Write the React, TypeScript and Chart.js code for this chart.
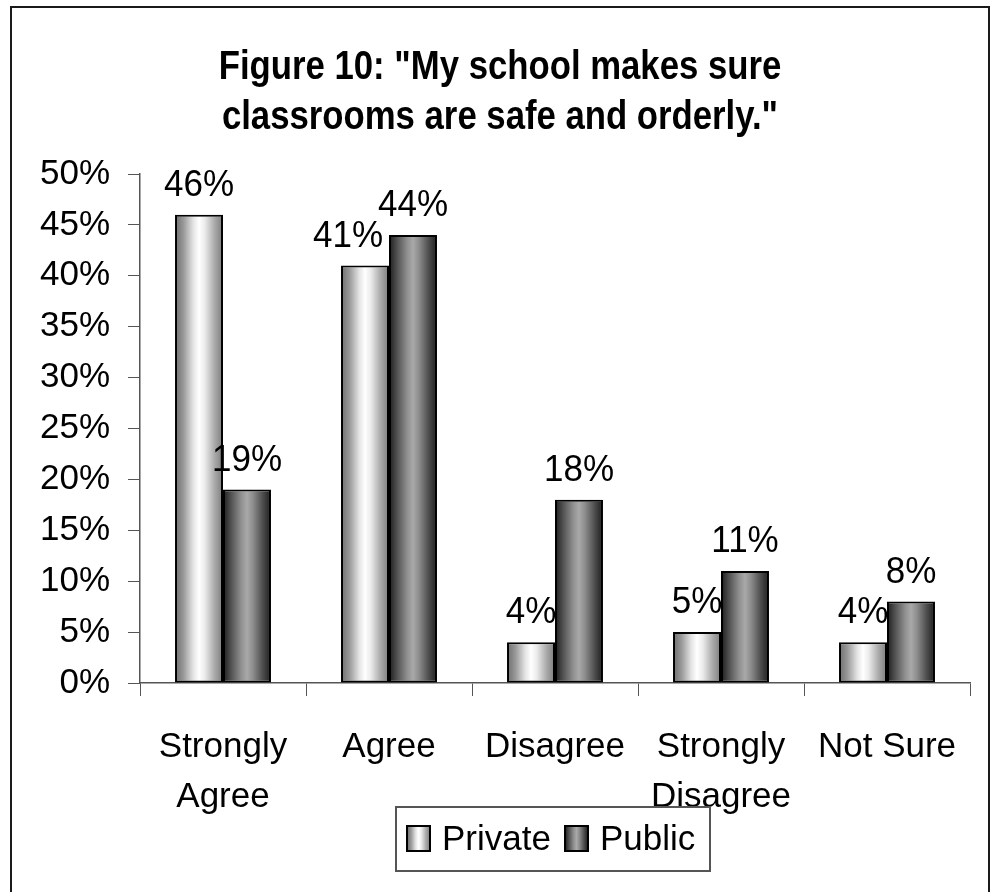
import React, { useEffect, useRef } from 'react';
import { Chart, registerables } from 'chart.js';
Chart.register(...registerables);

const TITLE_LINES = ['Figure 10: "My school makes sure', 'classrooms are safe and orderly."'];
const CATEGORIES: (string | string[])[] = [['Strongly', 'Agree'], 'Agree', 'Disagree', ['Strongly', 'Disagree'], 'Not Sure'];
const PRIVATE_VALUES = [46, 41, 4, 5, 4];
const PUBLIC_VALUES = [19, 44, 18, 11, 8];
const SERIES_NAMES = ['Private', 'Public'];
const Y_MIN = 0;
const Y_MAX = 50;
const Y_STEP = 5;

const FONT = '"Liberation Sans", Arial, Helvetica, sans-serif';
const CAT_PCT = 0.578;

type Stop = [number, string];
const PRIVATE_STOPS: Stop[] = [
  [0, '#6c6c6c'], [0.18, '#9a9a9a'], [0.38, '#e4e4e4'], [0.5, '#ffffff'],
  [0.62, '#ebebeb'], [0.82, '#ababab'], [1, '#7c7c7c'],
];
const PUBLIC_STOPS: Stop[] = [
  [0, '#1c1c1c'], [0.18, '#555555'], [0.38, '#909090'], [0.5, '#a9a9a9'],
  [0.62, '#8e8e8e'], [0.82, '#505050'], [1, '#1c1c1c'],
];

function grad(ctx: CanvasRenderingContext2D, x0: number, x1: number, stops: Stop[]) {
  const g = ctx.createLinearGradient(x0, 0, x1, 0);
  stops.forEach(([o, c]) => g.addColorStop(o, c));
  return g;
}

const makeBg = (stops: Stop[], side: number) => (c: any) => {
  const chart = c.chart;
  const xs = chart.scales && chart.scales.x;
  if (!xs || c.dataIndex === undefined || !isFinite(xs.width)) return stops[3][1];
  const center = xs.getPixelForValue(c.dataIndex);
  const bw = (xs.width / CATEGORIES.length) * CAT_PCT / 2;
  const left = side === 0 ? center - bw : center;
  return grad(chart.ctx, left, left + bw, stops);
};

// Label nudges (style): key = datasetIndex-dataIndex
const LABEL_DX: Record<string, number> = { '0-1': -17 };

function drawLabels(chart: any, dsIndex: number) {
  const ctx = chart.ctx;
  const ds = chart.data.datasets[dsIndex];
  const meta = chart.getDatasetMeta(dsIndex);
  ctx.save();
  ctx.font = `35px ${FONT}`;
  ctx.fillStyle = '#000';
  ctx.textAlign = 'center';
  ctx.textBaseline = 'alphabetic';
  meta.data.forEach((el: any, i: number) => {
    const dx = LABEL_DX[`${dsIndex}-${i}`] || 0;
    ctx.save();
    ctx.translate(el.x + dx, el.y - 19);
    ctx.scale(1, 1.08);
    ctx.fillText(`${ds.data[i]}%`, 0, 0);
    ctx.restore();
  });
  ctx.restore();
}

const valueLabels = {
  id: 'valueLabels',
  beforeDatasetsDraw(chart: any) {
    drawLabels(chart, 0);
  },
  afterDatasetsDraw(chart: any) {
    drawLabels(chart, 1);
  },
};

const frameTitleLegend = {
  id: 'frameTitleLegend',
  afterDraw(chart: any) {
    const ctx = chart.ctx;
    ctx.save();
    // outer frame
    ctx.strokeStyle = '#1a1a1a';
    ctx.lineWidth = 2;
    ctx.beginPath();
    ctx.moveTo(11, 900);
    ctx.lineTo(11, 7);
    ctx.lineTo(989, 7);
    ctx.lineTo(989, 900);
    ctx.stroke();
    // title (condensed bold)
    ctx.fillStyle = '#000';
    ctx.font = `bold 40px ${FONT}`;
    ctx.textAlign = 'center';
    ctx.textBaseline = 'alphabetic';
    const baselines = [79, 129];
    TITLE_LINES.forEach((line, i) => {
      ctx.save();
      ctx.translate(500, baselines[i]);
      ctx.scale(0.868, 1);
      ctx.fillText(line, 0, 0);
      ctx.restore();
    });
    // legend box
    const lx = 396, ly = 807, lw = 314, lh = 64;
    ctx.fillStyle = '#fff';
    ctx.fillRect(lx, ly, lw, lh);
    ctx.strokeStyle = '#555';
    ctx.lineWidth = 2;
    ctx.strokeRect(lx, ly, lw, lh);
    const items = [
      { x: 407, stops: PRIVATE_STOPS, text: SERIES_NAMES[0], tx: 442 },
      { x: 565, stops: PUBLIC_STOPS, text: SERIES_NAMES[1], tx: 600 },
    ];
    ctx.font = `35px ${FONT}`;
    ctx.textBaseline = 'middle';
    ctx.textAlign = 'left';
    items.forEach((it) => {
      const bx = it.x, by = 826, bw = 23, bh = 25;
      ctx.fillStyle = grad(ctx, bx, bx + bw, it.stops);
      ctx.fillRect(bx, by, bw, bh);
      ctx.strokeStyle = '#000';
      ctx.lineWidth = 2;
      ctx.strokeRect(bx, by, bw, bh);
      ctx.fillStyle = '#000';
      ctx.fillText(it.text, it.tx, 840);
    });
    ctx.restore();
  },
};

export default function App() {
  const ref = useRef<HTMLCanvasElement>(null);
  useEffect(() => {
    if (!ref.current) return;
    const chart = new Chart(ref.current, {
      type: 'bar',
      data: {
        labels: CATEGORIES as any,
        datasets: [
          {
            label: SERIES_NAMES[0],
            data: PRIVATE_VALUES,
            backgroundColor: makeBg(PRIVATE_STOPS, 0) as any,
            borderColor: '#000',
            borderWidth: 2,
            borderSkipped: false,
          },
          {
            label: SERIES_NAMES[1],
            data: PUBLIC_VALUES,
            backgroundColor: makeBg(PUBLIC_STOPS, 1) as any,
            borderColor: '#000',
            borderWidth: 2,
            borderSkipped: false,
          },
        ],
      },
      options: {
        responsive: false,
        animation: false,
        events: [],
        datasets: { bar: { categoryPercentage: CAT_PCT, barPercentage: 1 } },
        layout: { padding: { left: 0, right: 29, top: 174, bottom: 0 } },
        plugins: {
          legend: { display: false },
          tooltip: { enabled: false },
          title: { display: false },
        },
        scales: {
          x: {
            offset: true,
            grid: {
              display: true,
              drawOnChartArea: false,
              drawTicks: true,
              tickLength: 13,
              color: '#555',
              offset: true,
            },
            border: { display: true, color: '#555', width: 1.5 },
            ticks: {
              color: '#000',
              font: { family: FONT, size: 35, lineHeight: 1.43 },
              padding: 26,
              maxRotation: 0,
              autoSkip: false,
            },
            afterFit: (s: any) => { s.height = 209; },
          },
          y: {
            min: Y_MIN,
            max: Y_MAX,
            grid: {
              display: true,
              drawOnChartArea: false,
              drawTicks: true,
              tickLength: 12,
              color: '#555',
            },
            border: { display: true, color: '#555', width: 1.5 },
            ticks: {
              stepSize: Y_STEP,
              color: '#000',
              font: { family: FONT, size: 35 },
              padding: 18,
              callback: (v: any) => `${v}%`,
            },
            afterFit: (s: any) => { s.width = 140; },
          },
        },
      },
      plugins: [valueLabels, frameTitleLegend],
    });
    return () => chart.destroy();
  }, []);
  return (
    <div style={{ position: 'absolute', left: 0, top: 0, width: 999, height: 892, background: '#fff' }}>
      <canvas ref={ref} width={999} height={892} style={{ display: 'block' }} />
    </div>
  );
}
